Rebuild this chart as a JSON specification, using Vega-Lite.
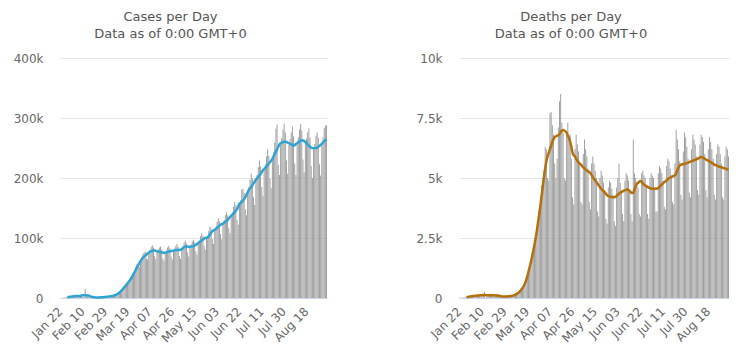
{
"$schema":"https://vega.github.io/schema/vega-lite/v6.json",
"background":"white",
"padding":{"left":0,"top":11,"right":0,"bottom":0},
"spacing":67,
"data":{"values":[
{"d":"Jan 22","c":0.1,"ca":null,"t":0.017,"ta":null},
{"d":"Jan 23","c":0.1,"ca":null,"t":0.001,"ta":null},
{"d":"Jan 24","c":0.3,"ca":null,"t":0.008,"ta":null},
{"d":"Jan 25","c":0.5,"ca":null,"t":0.016,"ta":null},
{"d":"Jan 26","c":0.7,"ca":null,"t":0.014,"ta":null},
{"d":"Jan 27","c":0.8,"ca":null,"t":0.026,"ta":null},
{"d":"Jan 28","c":1.5,"ca":1.0,"t":0.049,"ta":0.03},
{"d":"Jan 29","c":1.7,"ca":1.7,"t":0.038,"ta":0.04},
{"d":"Jan 30","c":2.0,"ca":2.0,"t":0.043,"ta":0.05},
{"d":"Jan 31","c":2.1,"ca":2.3,"t":0.046,"ta":0.06},
{"d":"Feb 01","c":2.6,"ca":2.6,"t":0.045,"ta":0.07},
{"d":"Feb 02","c":2.8,"ca":2.9,"t":0.057,"ta":0.08},
{"d":"Feb 03","c":3.2,"ca":3.1,"t":0.064,"ta":0.085},
{"d":"Feb 04","c":3.9,"ca":3.2,"t":0.066,"ta":0.09},
{"d":"Feb 05","c":3.7,"ca":3.3,"t":0.073,"ta":0.095},
{"d":"Feb 06","c":3.2,"ca":3.3,"t":0.073,"ta":0.1},
{"d":"Feb 07","c":3.4,"ca":3.2,"t":0.086,"ta":0.105},
{"d":"Feb 08","c":2.6,"ca":3.1,"t":0.089,"ta":0.11},
{"d":"Feb 09","c":2.6,"ca":4.4,"t":0.097,"ta":0.115},
{"d":"Feb 10","c":2.0,"ca":4.6,"t":0.108,"ta":0.12},
{"d":"Feb 11","c":2.0,"ca":4.6,"t":0.097,"ta":0.12},
{"d":"Feb 12","c":15.1,"ca":4.5,"t":0.254,"ta":0.12},
{"d":"Feb 13","c":6.5,"ca":4.4,"t":0.013,"ta":0.12},
{"d":"Feb 14","c":2.1,"ca":4.3,"t":0.143,"ta":0.115},
{"d":"Feb 15","c":2.0,"ca":4.2,"t":0.142,"ta":0.115},
{"d":"Feb 16","c":2.0,"ca":3.0,"t":0.106,"ta":0.115},
{"d":"Feb 17","c":1.8,"ca":2.2,"t":0.098,"ta":0.11},
{"d":"Feb 18","c":0.5,"ca":1.8,"t":0.139,"ta":0.11},
{"d":"Feb 19","c":0.6,"ca":1.5,"t":0.115,"ta":0.11},
{"d":"Feb 20","c":1.0,"ca":1.2,"t":0.125,"ta":0.11},
{"d":"Feb 21","c":1.0,"ca":1.0,"t":0.097,"ta":0.105},
{"d":"Feb 22","c":0.6,"ca":0.9,"t":0.15,"ta":0.1},
{"d":"Feb 23","c":0.6,"ca":0.9,"t":0.071,"ta":0.1},
{"d":"Feb 24","c":0.9,"ca":1.0,"t":0.152,"ta":0.09},
{"d":"Feb 25","c":0.9,"ca":1.1,"t":0.074,"ta":0.08},
{"d":"Feb 26","c":1.2,"ca":1.2,"t":0.064,"ta":0.07},
{"d":"Feb 27","c":1.4,"ca":1.4,"t":0.045,"ta":0.065},
{"d":"Feb 28","c":1.8,"ca":1.5,"t":0.061,"ta":0.06},
{"d":"Feb 29","c":2.0,"ca":1.7,"t":0.07,"ta":0.06},
{"d":"Mar 01","c":1.8,"ca":1.9,"t":0.059,"ta":0.06},
{"d":"Mar 02","c":2.4,"ca":2.1,"t":0.072,"ta":0.065},
{"d":"Mar 03","c":2.2,"ca":2.4,"t":0.078,"ta":0.07},
{"d":"Mar 04","c":2.6,"ca":2.7,"t":0.091,"ta":0.075},
{"d":"Mar 05","c":3.2,"ca":3.0,"t":0.1,"ta":0.08},
{"d":"Mar 06","c":3.5,"ca":3.4,"t":0.104,"ta":0.09},
{"d":"Mar 07","c":3.8,"ca":3.9,"t":0.098,"ta":0.1},
{"d":"Mar 08","c":4.4,"ca":4.5,"t":0.13,"ta":0.12},
{"d":"Mar 09","c":5.5,"ca":5.2,"t":0.15,"ta":0.14},
{"d":"Mar 10","c":6.0,"ca":6.2,"t":0.18,"ta":0.17},
{"d":"Mar 11","c":7.8,"ca":7.4,"t":0.21,"ta":0.2},
{"d":"Mar 12","c":9.5,"ca":8.8,"t":0.25,"ta":0.24},
{"d":"Mar 13","c":10.8,"ca":10.6,"t":0.27,"ta":0.29},
{"d":"Mar 14","c":12.2,"ca":12.8,"t":0.33,"ta":0.35},
{"d":"Mar 15","c":14.5,"ca":15.0,"t":0.45,"ta":0.42},
{"d":"Mar 16","c":18.0,"ca":17.2,"t":0.55,"ta":0.5},
{"d":"Mar 17","c":20.5,"ca":19.6,"t":0.66,"ta":0.61},
{"d":"Mar 18","c":23.5,"ca":22.0,"t":0.78,"ta":0.74},
{"d":"Mar 19","c":27,"ca":24.5,"t":0.88,"ta":0.9},
{"d":"Mar 20","c":30,"ca":27.0,"t":1.0,"ta":1.1},
{"d":"Mar 21","c":28,"ca":29.5,"t":1.3,"ta":1.3},
{"d":"Mar 22","c":31,"ca":32.5,"t":1.6,"ta":1.5},
{"d":"Mar 23","c":35,"ca":36.0,"t":1.9,"ta":1.72},
{"d":"Mar 24","c":42,"ca":39.5,"t":2.1,"ta":1.96},
{"d":"Mar 25","c":47,"ca":43.0,"t":2.4,"ta":2.22},
{"d":"Mar 26","c":52,"ca":47.0,"t":2.5,"ta":2.5},
{"d":"Mar 27","c":57,"ca":51.0,"t":2.7,"ta":2.8},
{"d":"Mar 28","c":54,"ca":54.5,"t":3.1,"ta":3.15},
{"d":"Mar 29","c":52,"ca":58.0,"t":3.7,"ta":3.5},
{"d":"Mar 30","c":58,"ca":61.5,"t":4.2,"ta":3.85},
{"d":"Mar 31","c":68,"ca":64.5,"t":4.7,"ta":4.25},
{"d":"Apr 01","c":73,"ca":67.0,"t":5.0,"ta":4.65},
{"d":"Apr 02","c":76,"ca":69.0,"t":5.3,"ta":5.05},
{"d":"Apr 03","c":77,"ca":70.5,"t":6.3,"ta":5.4},
{"d":"Apr 04","c":66,"ca":72.0,"t":6.2,"ta":5.7},
{"d":"Apr 05","c":64,"ca":74.0,"t":5.0,"ta":5.9},
{"d":"Apr 06","c":75,"ca":75.5,"t":4.9,"ta":6.05},
{"d":"Apr 07","c":80,"ca":77.0,"t":7.7,"ta":6.2},
{"d":"Apr 08","c":85,"ca":78.0,"t":7.75,"ta":6.35},
{"d":"Apr 09","c":88,"ca":78.5,"t":7.2,"ta":6.5},
{"d":"Apr 10","c":84,"ca":79,"t":6.8,"ta":6.62},
{"d":"Apr 11","c":70,"ca":79,"t":5.6,"ta":6.7},
{"d":"Apr 12","c":65,"ca":78.5,"t":5.0,"ta":6.74},
{"d":"Apr 13","c":77,"ca":78,"t":5.8,"ta":6.76},
{"d":"Apr 14","c":81,"ca":77.5,"t":7.1,"ta":6.78},
{"d":"Apr 15","c":84,"ca":77,"t":8.2,"ta":6.82},
{"d":"Apr 16","c":86,"ca":76.5,"t":8.5,"ta":6.9},
{"d":"Apr 17","c":81,"ca":76,"t":7.3,"ta":6.97},
{"d":"Apr 18","c":66,"ca":75.5,"t":6.9,"ta":7.0},
{"d":"Apr 19","c":62,"ca":75.5,"t":5.0,"ta":6.98},
{"d":"Apr 20","c":74,"ca":75.5,"t":4.9,"ta":6.94},
{"d":"Apr 21","c":79,"ca":76,"t":6.8,"ta":6.88},
{"d":"Apr 22","c":84,"ca":77,"t":7.3,"ta":6.78},
{"d":"Apr 23","c":87,"ca":77.5,"t":6.6,"ta":6.66},
{"d":"Apr 24","c":83,"ca":78,"t":6.8,"ta":6.5},
{"d":"Apr 25","c":69,"ca":78,"t":5.8,"ta":6.3},
{"d":"Apr 26","c":64,"ca":78.5,"t":4.2,"ta":6.05},
{"d":"Apr 27","c":78,"ca":79,"t":3.9,"ta":5.95},
{"d":"Apr 28","c":82,"ca":79.5,"t":6.2,"ta":5.9},
{"d":"Apr 29","c":87,"ca":80,"t":6.8,"ta":5.8},
{"d":"Apr 30","c":90,"ca":80,"t":6.4,"ta":5.72},
{"d":"May 01","c":85,"ca":80,"t":6.1,"ta":5.65},
{"d":"May 02","c":70,"ca":80,"t":5.6,"ta":5.6},
{"d":"May 03","c":65,"ca":80.5,"t":4.0,"ta":5.56},
{"d":"May 04","c":80,"ca":81.5,"t":3.9,"ta":5.5},
{"d":"May 05","c":86,"ca":83,"t":6.0,"ta":5.44},
{"d":"May 06","c":92,"ca":84.5,"t":6.6,"ta":5.4},
{"d":"May 07","c":96,"ca":85.5,"t":6.2,"ta":5.35},
{"d":"May 08","c":91,"ca":86,"t":5.9,"ta":5.31},
{"d":"May 09","c":76,"ca":86,"t":5.4,"ta":5.28},
{"d":"May 10","c":69,"ca":85.5,"t":4.0,"ta":5.25},
{"d":"May 11","c":84,"ca":85.5,"t":3.7,"ta":5.2},
{"d":"May 12","c":89,"ca":86,"t":5.6,"ta":5.12},
{"d":"May 13","c":94,"ca":86,"t":5.9,"ta":5.04},
{"d":"May 14","c":97,"ca":86.5,"t":5.6,"ta":4.96},
{"d":"May 15","c":93,"ca":87.5,"t":5.3,"ta":4.9},
{"d":"May 16","c":78,"ca":88.5,"t":5.0,"ta":4.83},
{"d":"May 17","c":72,"ca":90,"t":3.6,"ta":4.76},
{"d":"May 18","c":90,"ca":91.5,"t":3.4,"ta":4.69},
{"d":"May 19","c":96,"ca":93,"t":5.0,"ta":4.62},
{"d":"May 20","c":103,"ca":94.5,"t":5.3,"ta":4.55},
{"d":"May 21","c":108,"ca":96,"t":5.1,"ta":4.5},
{"d":"May 22","c":104,"ca":97.5,"t":4.8,"ta":4.46},
{"d":"May 23","c":87,"ca":99,"t":4.5,"ta":4.4},
{"d":"May 24","c":81,"ca":100,"t":3.3,"ta":4.34},
{"d":"May 25","c":99,"ca":100.5,"t":3.1,"ta":4.28},
{"d":"May 26","c":104,"ca":101,"t":4.6,"ta":4.25},
{"d":"May 27","c":112,"ca":103,"t":4.9,"ta":4.23},
{"d":"May 28","c":119,"ca":106,"t":4.8,"ta":4.22},
{"d":"May 29","c":116,"ca":109,"t":4.55,"ta":4.21},
{"d":"May 30","c":98,"ca":111,"t":4.3,"ta":4.2},
{"d":"May 31","c":90,"ca":112.5,"t":3.2,"ta":4.2},
{"d":"Jun 01","c":113,"ca":114,"t":3.0,"ta":4.21},
{"d":"Jun 02","c":118,"ca":115,"t":4.6,"ta":4.25},
{"d":"Jun 03","c":127,"ca":117,"t":5.0,"ta":4.3},
{"d":"Jun 04","c":133,"ca":119,"t":5.6,"ta":4.35},
{"d":"Jun 05","c":128,"ca":120.5,"t":4.8,"ta":4.39},
{"d":"Jun 06","c":107,"ca":122,"t":4.5,"ta":4.41},
{"d":"Jun 07","c":98,"ca":123,"t":3.5,"ta":4.44},
{"d":"Jun 08","c":123,"ca":124,"t":3.2,"ta":4.47},
{"d":"Jun 09","c":130,"ca":125.5,"t":4.9,"ta":4.49},
{"d":"Jun 10","c":138,"ca":127,"t":5.2,"ta":4.51},
{"d":"Jun 11","c":143,"ca":128,"t":5.1,"ta":4.52},
{"d":"Jun 12","c":138,"ca":130,"t":4.9,"ta":4.5},
{"d":"Jun 13","c":117,"ca":132.5,"t":4.5,"ta":4.45},
{"d":"Jun 14","c":108,"ca":135,"t":3.5,"ta":4.4},
{"d":"Jun 15","c":136,"ca":137,"t":3.2,"ta":4.37},
{"d":"Jun 16","c":143,"ca":139,"t":6.6,"ta":4.38},
{"d":"Jun 17","c":152,"ca":141,"t":5.2,"ta":4.52},
{"d":"Jun 18","c":160,"ca":143,"t":5.0,"ta":4.65},
{"d":"Jun 19","c":154,"ca":145.5,"t":4.8,"ta":4.75},
{"d":"Jun 20","c":130,"ca":148,"t":4.6,"ta":4.8},
{"d":"Jun 21","c":122,"ca":152.5,"t":3.5,"ta":4.84},
{"d":"Jun 22","c":156,"ca":157,"t":3.4,"ta":4.87},
{"d":"Jun 23","c":163,"ca":158.5,"t":5.2,"ta":4.86},
{"d":"Jun 24","c":181,"ca":160,"t":5.3,"ta":4.78},
{"d":"Jun 25","c":182,"ca":162.5,"t":5.1,"ta":4.72},
{"d":"Jun 26","c":175,"ca":165,"t":5.0,"ta":4.69},
{"d":"Jun 27","c":148,"ca":168,"t":4.7,"ta":4.66},
{"d":"Jun 28","c":138,"ca":172,"t":3.5,"ta":4.63},
{"d":"Jun 29","c":174,"ca":176,"t":3.3,"ta":4.6},
{"d":"Jun 30","c":185,"ca":180,"t":5.0,"ta":4.58},
{"d":"Jul 01","c":197,"ca":182.5,"t":5.2,"ta":4.56},
{"d":"Jul 02","c":207,"ca":185,"t":5.1,"ta":4.55},
{"d":"Jul 03","c":199,"ca":188,"t":5.0,"ta":4.55},
{"d":"Jul 04","c":168,"ca":191,"t":4.6,"ta":4.55},
{"d":"Jul 05","c":155,"ca":194,"t":3.6,"ta":4.55},
{"d":"Jul 06","c":195,"ca":197,"t":3.6,"ta":4.56},
{"d":"Jul 07","c":205,"ca":199.5,"t":5.2,"ta":4.58},
{"d":"Jul 08","c":218,"ca":202,"t":5.5,"ta":4.63},
{"d":"Jul 09","c":229,"ca":204.5,"t":5.4,"ta":4.68},
{"d":"Jul 10","c":219,"ca":207,"t":5.2,"ta":4.73},
{"d":"Jul 11","c":185,"ca":210,"t":4.9,"ta":4.78},
{"d":"Jul 12","c":170,"ca":213,"t":3.8,"ta":4.82},
{"d":"Jul 13","c":213,"ca":215,"t":3.7,"ta":4.86},
{"d":"Jul 14","c":223,"ca":217,"t":5.5,"ta":4.9},
{"d":"Jul 15","c":236,"ca":219,"t":5.8,"ta":4.95},
{"d":"Jul 16","c":248,"ca":221.5,"t":5.7,"ta":4.99},
{"d":"Jul 17","c":237,"ca":224,"t":5.4,"ta":5.02},
{"d":"Jul 18","c":199,"ca":226.5,"t":5.1,"ta":5.05},
{"d":"Jul 19","c":183,"ca":229,"t":4.0,"ta":5.07},
{"d":"Jul 20","c":230,"ca":232,"t":3.9,"ta":5.09},
{"d":"Jul 21","c":243,"ca":236,"t":5.6,"ta":5.11},
{"d":"Jul 22","c":259,"ca":240,"t":7.0,"ta":5.2},
{"d":"Jul 23","c":282,"ca":244,"t":6.6,"ta":5.32},
{"d":"Jul 24","c":289,"ca":248,"t":6.2,"ta":5.44},
{"d":"Jul 25","c":222,"ca":252,"t":5.7,"ta":5.52},
{"d":"Jul 26","c":205,"ca":256,"t":4.3,"ta":5.55},
{"d":"Jul 27","c":255,"ca":258,"t":4.1,"ta":5.57},
{"d":"Jul 28","c":267,"ca":259,"t":6.1,"ta":5.58},
{"d":"Jul 29","c":281,"ca":260,"t":6.9,"ta":5.59},
{"d":"Jul 30","c":291,"ca":260.5,"t":6.7,"ta":5.61},
{"d":"Jul 31","c":276,"ca":260.5,"t":6.3,"ta":5.62},
{"d":"Aug 01","c":229,"ca":260,"t":5.8,"ta":5.64},
{"d":"Aug 02","c":207,"ca":259,"t":4.4,"ta":5.66},
{"d":"Aug 03","c":255,"ca":258,"t":4.2,"ta":5.68},
{"d":"Aug 04","c":265,"ca":257,"t":6.2,"ta":5.7},
{"d":"Aug 05","c":276,"ca":256,"t":6.8,"ta":5.72},
{"d":"Aug 06","c":286,"ca":255,"t":6.6,"ta":5.74},
{"d":"Aug 07","c":269,"ca":254,"t":6.4,"ta":5.76},
{"d":"Aug 08","c":224,"ca":255,"t":5.9,"ta":5.78},
{"d":"Aug 09","c":205,"ca":256.5,"t":4.5,"ta":5.8},
{"d":"Aug 10","c":255,"ca":258,"t":4.3,"ta":5.83},
{"d":"Aug 11","c":268,"ca":259.5,"t":6.4,"ta":5.86},
{"d":"Aug 12","c":281,"ca":261,"t":6.8,"ta":5.87},
{"d":"Aug 13","c":290,"ca":262.5,"t":6.7,"ta":5.86},
{"d":"Aug 14","c":279,"ca":263,"t":6.5,"ta":5.83},
{"d":"Aug 15","c":231,"ca":262.5,"t":6.0,"ta":5.8},
{"d":"Aug 16","c":209,"ca":261.5,"t":4.5,"ta":5.77},
{"d":"Aug 17","c":257,"ca":260,"t":4.2,"ta":5.74},
{"d":"Aug 18","c":266,"ca":258,"t":6.2,"ta":5.72},
{"d":"Aug 19","c":276,"ca":256,"t":6.7,"ta":5.69},
{"d":"Aug 20","c":283,"ca":254,"t":6.5,"ta":5.66},
{"d":"Aug 21","c":267,"ca":252,"t":6.2,"ta":5.63},
{"d":"Aug 22","c":220,"ca":250.5,"t":5.8,"ta":5.6},
{"d":"Aug 23","c":200,"ca":250,"t":4.3,"ta":5.56},
{"d":"Aug 24","c":247,"ca":249.5,"t":4.1,"ta":5.54},
{"d":"Aug 25","c":257,"ca":249.5,"t":6.0,"ta":5.52},
{"d":"Aug 26","c":270,"ca":250,"t":6.4,"ta":5.5},
{"d":"Aug 27","c":276,"ca":250.5,"t":6.3,"ta":5.48},
{"d":"Aug 28","c":267,"ca":252,"t":6.0,"ta":5.46},
{"d":"Aug 29","c":223,"ca":253.5,"t":5.6,"ta":5.45},
{"d":"Aug 30","c":204,"ca":255,"t":4.2,"ta":5.43},
{"d":"Aug 31","c":254,"ca":257,"t":4.1,"ta":5.41},
{"d":"Sep 01","c":268,"ca":259,"t":5.9,"ta":5.4},
{"d":"Sep 02","c":283,"ca":261,"t":6.3,"ta":5.38},
{"d":"Sep 03","c":287,"ca":263,"t":6.2,"ta":5.36},
{"d":"Sep 04","c":288,"ca":264.5,"t":5.9,"ta":5.35}
]},
"hconcat":[
{"width":267,"height":240,
 "title":{"text":["Cases per Day","Data as of 0:00 GMT+0"]},
 "layer":[
  {"mark":{"type":"bar","color":"#9c9c9c"},
   "encoding":{
    "x":{"field":"d","type":"ordinal","sort":null,"scale":{"paddingInner":0.2,"paddingOuter":0},
     "axis":{"values":["Jan 22","Feb 10","Feb 29","Mar 19","Apr 07","Apr 26","May 15","Jun 03","Jun 22","Jul 11","Jul 30","Aug 18"]}},
    "y":{"field":"c","type":"quantitative","scale":{"domain":[0,400],"nice":false},
     "axis":{"values":[0,100,200,300,400],"labelExpr":"datum.value == 0 ? '0' : datum.value + 'k'"}}}},
  {"mark":{"type":"line","color":"#2fa4d4","strokeWidth":2.5,"interpolate":"monotone"},
   "encoding":{
    "x":{"field":"d","type":"ordinal","sort":null},
    "y":{"field":"ca","type":"quantitative"}}}
 ]},
{"width":270,"height":240,
 "title":{"text":["Deaths per Day","Data as of 0:00 GMT+0"]},
 "layer":[
  {"mark":{"type":"bar","color":"#9c9c9c"},
   "encoding":{
    "x":{"field":"d","type":"ordinal","sort":null,"scale":{"paddingInner":0.2,"paddingOuter":0},
     "axis":{"values":["Jan 22","Feb 10","Feb 29","Mar 19","Apr 07","Apr 26","May 15","Jun 03","Jun 22","Jul 11","Jul 30","Aug 18"]}},
    "y":{"field":"t","type":"quantitative","scale":{"domain":[0,10],"nice":false},
     "axis":{"values":[0,2.5,5,7.5,10],"labelExpr":"datum.value == 0 ? '0' : datum.value + 'k'"}}}},
  {"mark":{"type":"line","color":"#b5700c","strokeWidth":2.5,"interpolate":"monotone"},
   "encoding":{
    "x":{"field":"d","type":"ordinal","sort":null},
    "y":{"field":"ta","type":"quantitative"}}}
 ]}
],
"config":{
 "view":{"stroke":null},
 "font":"DejaVu Sans",
 "title":{"fontSize":13,"fontWeight":"normal","color":"#555555","lineHeight":17,"offset":11,"dx":-23,"anchor":"middle","font":"DejaVu Sans"},
 "axisX":{"labelAngle":-45,"labelAlign":"right","labelBaseline":"middle","ticks":false,"domainColor":"#ccd6eb","domainWidth":1,"labelColor":"#666666","labelFontSize":12,"labelFont":"DejaVu Sans","title":null,"labelPadding":11,"grid":false,"labelOverlap":false},
 "axisY":{"domain":false,"ticks":false,"gridColor":"#e6e6e6","labelPadding":17,"title":null,"minExtent":60,"maxExtent":60,"labelColor":"#666666","labelFontSize":12,"labelFont":"DejaVu Sans"}
}
}
